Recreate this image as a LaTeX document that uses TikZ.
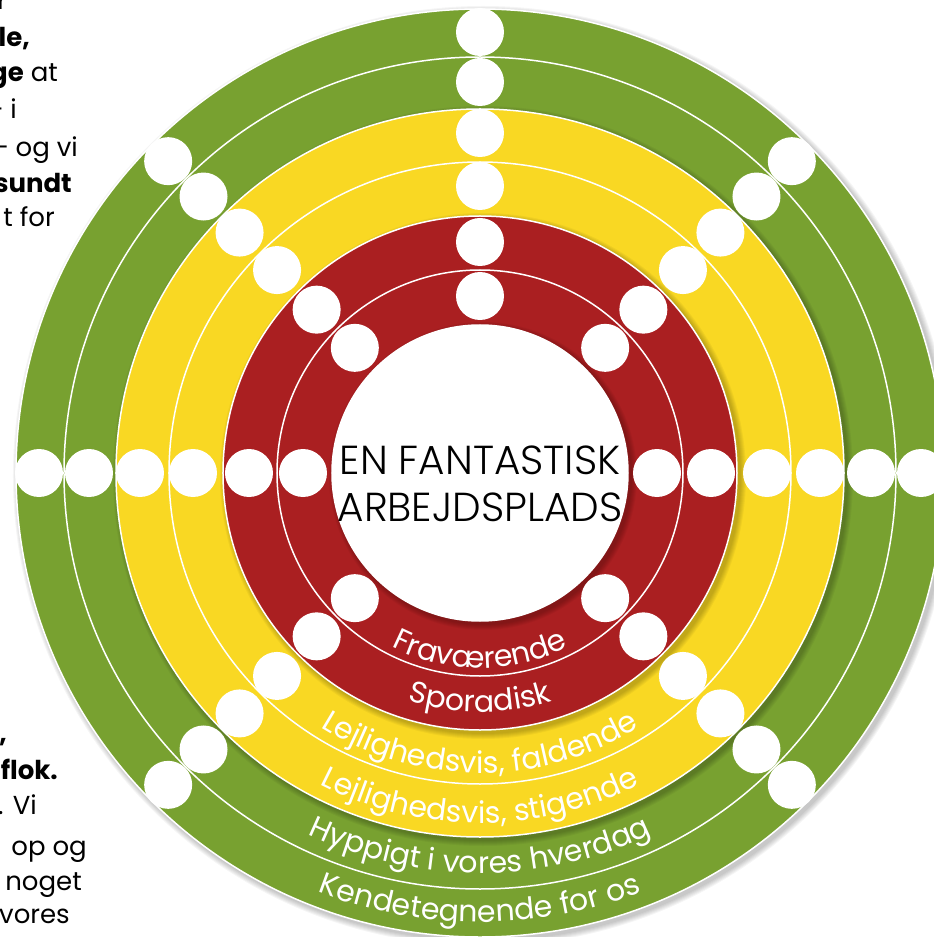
\documentclass[tikz,border=0pt]{standalone}
\usepackage{fontspec}
\setmainfont{Poppins}
\IfFontExistsTF{Poppins Light}
  {\newfontfamily\lightfam{Poppins Light}}
  {\newfontfamily\lightfam{Poppins}}
\usetikzlibrary{calc, decorations.text}

\definecolor{ringgreen}{RGB}{120,161,48}
\definecolor{ringyellow}{RGB}{249,216,35}
\definecolor{ringred}{RGB}{170,31,33}
\newcommand{\ringfont}{\fontsize{30}{30}\selectfont}
\newcommand{\titlefont}{\lightfam\fontsize{40.5}{47}\selectfont}
\newcommand{\sidefont}{\fontsize{26}{36}\selectfont}

\begin{document}
\begin{tikzpicture}[x=1pt, y=1pt,
  ringline/.style={white, line width=1.5pt},
  hole/.style={white},
  ringtext/.style={decorate, decoration={text along path, text align=center,
    text color=white, text={|\ringfont|#1}}},
  sidetext/.style={anchor=base east, inner sep=0pt, font=\sidefont}]
\coordinate (origin) at (0,0);
\useasboundingbox (-480,-464) rectangle (454,473);
\clip (-480,-464) rectangle (454,473);
% Draw discs, each with a soft shadow
\foreach \r/\col in {464/ringgreen, 364/ringyellow, 257/ringred, 148/white} {
  \foreach \s in {1,...,6}
    \fill[black, opacity=0.04] ($(origin)+(3,-3)$) circle [radius=\r+\s];
  \fill[\col, draw=white, line width=1.5pt] (origin) circle [radius=\r];
}
% Thin lines between the bands
\foreach \r in {416,311,203}
  \draw[ringline] (origin) circle [radius=\r];
% Holes along the spokes
\foreach \a in {0,45,90,135,180,225,315}
  \foreach \r in {177,231,287,340,391,441}
    \fill[hole] (\a:\r) circle [radius=24];
% Title
\node[align=center, font=\titlefont] (title) at (0,-10.5) {EN FANTASTISK\\ARBEJDSPLADS};
% Band labels
\path[ringtext={Fraværende}] (180:195) arc[start angle=180, end angle=360, radius=195];
\path[ringtext={Sporadisk}] (180:239) arc[start angle=180, end angle=360, radius=239];
\path[ringtext={Lejlighedsvis, faldende}] (180:300) arc[start angle=180, end angle=360, radius=300];
\path[ringtext={Lejlighedsvis, stigende}] (180:350) arc[start angle=180, end angle=360, radius=350];
\path[ringtext={Hyppigt i vores hverdag}] (180:400) arc[start angle=180, end angle=360, radius=400];
\path[ringtext={Kendetegnende for os}] (180:449) arc[start angle=180, end angle=360, radius=449];
% Cut text on the left
\node[sidetext] (top1) at (-473,463) {\textbf{r}};
\node[sidetext] (top2) at (-450,426) {\textbf{le,}};
\node[sidetext] (top3) at (-422,391) {\textbf{ge} at};
\node[sidetext] (top4) at (-463,354) {– i};
\node[sidetext] (top5) at (-402,316) {– og vi};
\node[sidetext] (top6) at (-408,280) {\textbf{sundt}};
\node[sidetext] (top7) at (-425,246) {t for};
\node[sidetext] (low1) at (-473,-269) {\textbf{,}};
\node[sidetext] (low2) at (-422,-306) {\textbf{flok.}};
\node[sidetext] (low3) at (-443,-341) {. Vi};
\node[sidetext] (low4) at (-393,-382) {op og};
\node[sidetext] (low5) at (-398,-417) {noget};
\node[sidetext] (low6) at (-410,-450) {vores};
\end{tikzpicture}
\end{document}
